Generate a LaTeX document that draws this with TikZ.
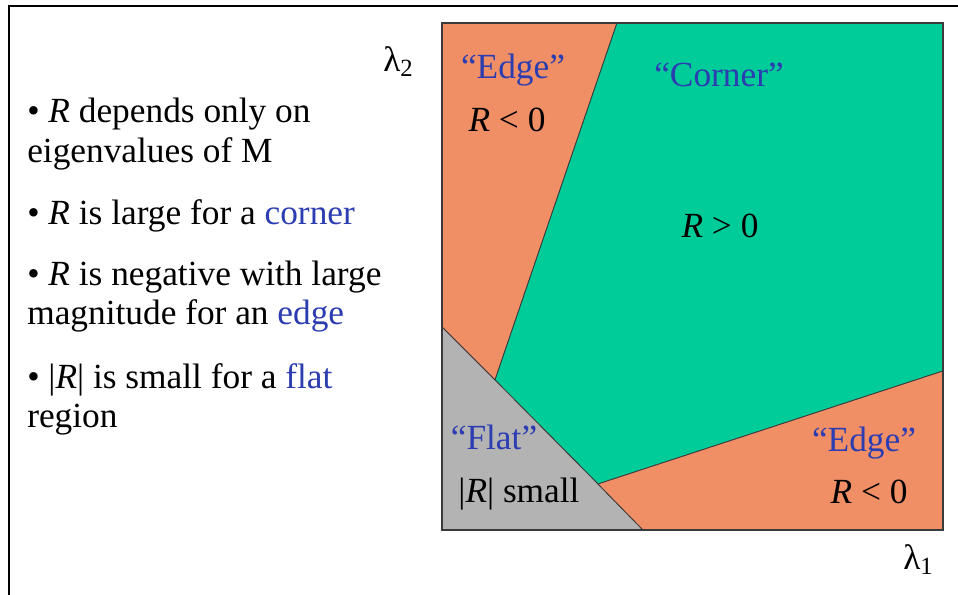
\documentclass[tikz,border=0pt]{standalone}
\usepackage{fontspec}
\setmainfont{Liberation Serif}
\usepackage{xcolor}
\usepackage{tikz}
\definecolor{blue}{HTML}{2B3DB0}
\definecolor{salmon}{HTML}{F08E66}
\definecolor{jade}{HTML}{00CC99}
\definecolor{flatgray}{HTML}{B3B3B3}
\definecolor{rim}{HTML}{3A3A3A}

\begin{document}
\begin{tikzpicture}[x=0.75pt,y=-0.75pt,
    every node/.style={font=\fontsize{26.5}{30}\selectfont,inner sep=0pt},
    line/.style={anchor=base west},
    label/.style={anchor=base},
    tag/.style={label,text=blue},
    zone/.style={draw=rim,line width=0.6pt,line join=round}]
    \useasboundingbox (0,0) rectangle (958,595);
    % frame
    \draw[line width=2.2pt] (9,595) -- (9,6) -- (958,6);
    % left column
    \node[line] (b1a) at (27,123) {• \emph{R} depends only on};
    \node[line] (b1b) at (27,163) {eigenvalues of M};
    \node[line] (b2) at (27,225) {• \emph{R} is large for a \textcolor{blue}{corner}};
    \node[line] (b3a) at (27,286) {• \emph{R} is negative with large};
    \node[line] (b3b) at (27,325) {magnitude for an \textcolor{blue}{edge}};
    \node[line] (b4a) at (27,389) {• |\emph{R}| is small for a \textcolor{blue}{flat}};
    \node[line] (b4b) at (27,428) {region};
    % square corners and cut points
    \coordinate (tl) at (442,23);
    \coordinate (tr) at (943,23);
    \coordinate (br) at (943,530);
    \coordinate (bl) at (442,530);
    \coordinate (top) at (617,23);
    \coordinate (mid) at (495,380);
    \coordinate (lft) at (442,327);
    \coordinate (low) at (598,484);
    \coordinate (rgt) at (943,371);
    \coordinate (bot) at (643,530);
    % regions
    \filldraw[zone,fill=salmon] (tl) -- (top) -- (mid) -- (lft) -- cycle;
    \filldraw[zone,fill=jade] (top) -- (tr) -- (rgt) -- (low) -- (mid) -- cycle;
    \filldraw[zone,fill=flatgray] (lft) -- (mid) -- (low) -- (bot) -- (bl) -- cycle;
    \filldraw[zone,fill=salmon] (low) -- (rgt) -- (br) -- (bot) -- cycle;
    \draw[draw=rim,line width=0.9pt] (tl) rectangle (br);
    % region labels
    \node[tag] (edge1) at (513,79) {“Edge”};
    \node[label] (neg1) at (507,132) {\emph{R} < 0};
    \node[tag] (corner) at (719,87) {“Corner”};
    \node[label] (pos) at (720,238) {\emph{R} > 0};
    \node[tag] (flat) at (494,450) {“Flat”};
    \node[label] (small) at (519,503) {|\emph{R}| small};
    \node[tag] (edge2) at (864,452) {“Edge”};
    \node[label] (neg2) at (869,504) {\emph{R} < 0};
    % axes
    \node[line] (lam2) at (383,72) {λ\textsubscript{2}};
    \node[line] (lam1) at (903,570) {λ\textsubscript{1}};
  \end{tikzpicture}
\end{document}
